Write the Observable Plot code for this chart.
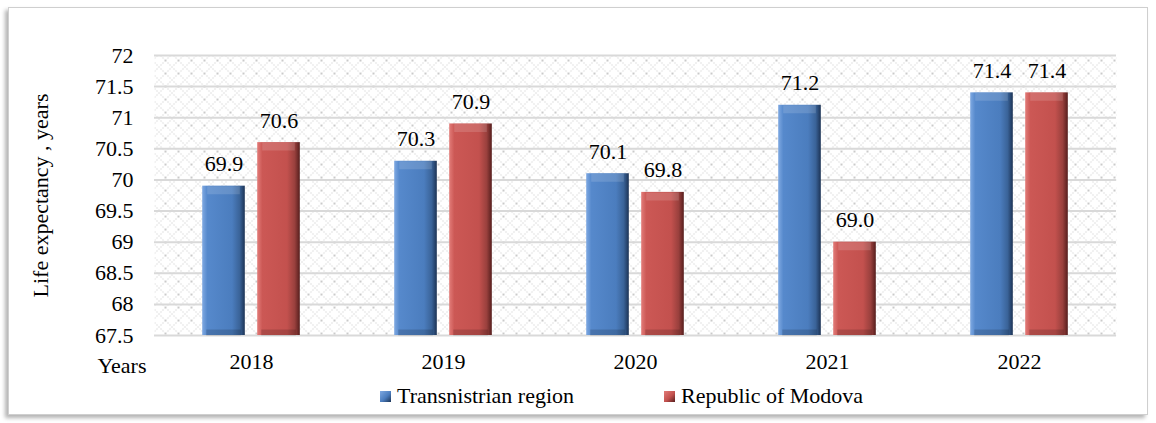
<!DOCTYPE html>
<html>
<head>
<meta charset="utf-8">
<script src="https://cdn.jsdelivr.net/npm/d3@7"></script>
<script src="https://cdn.jsdelivr.net/npm/@observablehq/plot@0.6"></script>
<style>
  html, body { margin: 0; padding: 0; background: #fff; }
  body { width: 1156px; height: 423px; position: relative; overflow: hidden; font-family: "Liberation Serif", "Times New Roman", serif; }
  #box { position: absolute; left: 8px; top: 7px; width: 1138px; height: 406px; border: 1px solid #cfcfcf; background: #fff;
         box-shadow: -3px 3px 4px rgba(0,0,0,0.30); }
  #chart { position: absolute; left: 0; top: 0; }
  #chart svg text { font-family: "Liberation Serif", "Times New Roman", serif; }
  #legend { position: absolute; left: 371px; top: 375px; display: flex; align-items: center; font-size: 22px; color: #000; white-space: nowrap; }
  .item { display: flex; align-items: center; }
  .sw { width: 11px; height: 11px; margin-right: 6px; }
</style>
</head>
<body>
<div id="box">
  <div id="chart"></div>
  <div id="legend"></div>
</div>
<script>
// ---- data ----
const years = ["2018", "2019", "2020", "2021", "2022"];
const seriesNames = ["Transnistrian region", "Republic of Modova"];
const transnistria = [69.9, 70.3, 70.1, 71.2, 71.4];
const moldova = [70.6, 70.9, 69.8, 69.0, 71.4];
const yTicks = [67.5, 68, 68.5, 69, 69.5, 70, 70.5, 71, 71.5, 72];
const yTitle = "Life expectancy , years";
const xTitle = "Years";

const rows = [];
years.forEach((y, i) => {
  rows.push({year: y, series: seriesNames[0], value: transnistria[i]});
  rows.push({year: y, series: seriesNames[1], value: moldova[i]});
});
const blueRows = rows.filter(d => d.series === seriesNames[0]);
const redRows = rows.filter(d => d.series === seriesNames[1]);

// ---- layout ----
const W = 1138, H = 370;
const mL = 145, mR = 31, mT = 47, mB = 43;
const step = (W - mL - mR) / years.length;
const barW = 43, gap = 12;
const outer = (step - (2 * barW + gap)) / 2;
const inner = step - outer - barW;
const off = gap / 2 + barW / 2;
const yMin = yTicks[0];
const font = "'Liberation Serif', 'Times New Roman', serif";
const fs = 22;

const barCommon = {x: "year", y1: yMin, y2: "value"};
const txt = {fontFamily: font, fontSize: fs, fill: "#000"};

const plot = Plot.plot({
  width: W,
  height: H,
  marginLeft: mL,
  marginRight: mR,
  marginTop: mT,
  marginBottom: mB,
  style: {fontFamily: font, fontSize: "22px", color: "#000", background: "transparent", overflow: "visible"},
  x: {domain: years, padding: 0, tickSize: 0, tickPadding: 18, label: null},
  y: {domain: [yTicks[0], yTicks[yTicks.length - 1]], ticks: yTicks, tickSize: 0, tickPadding: 21, label: null, tickFormat: d => String(d)},
  marks: [
    Plot.frame({fill: "url(#hatch)", stroke: "none"}),
    Plot.ruleY(yTicks, {stroke: "#d9d9d9", strokeWidth: 2}),
    Plot.barY(blueRows, {...barCommon, fill: "url(#gBlue)", insetLeft: outer, insetRight: inner}),
    Plot.barY(redRows, {...barCommon, fill: "url(#gRed)", insetLeft: inner, insetRight: outer}),
    // top bevel highlight
    Plot.tickY(blueRows, {x: "year", y: "value", stroke: "#ffffff", strokeOpacity: 0.14, strokeWidth: 8, dy: 4, insetLeft: outer + 5, insetRight: inner + 5}),
    Plot.tickY(redRows, {x: "year", y: "value", stroke: "#ffffff", strokeOpacity: 0.14, strokeWidth: 8, dy: 4, insetLeft: inner + 5, insetRight: outer + 5}),
    // bottom bevel shade
    Plot.tickY(blueRows, {x: "year", y: yMin, stroke: "#000", strokeOpacity: 0.15, strokeWidth: 6, dy: -3, insetLeft: outer + 4, insetRight: inner + 4}),
    Plot.tickY(redRows, {x: "year", y: yMin, stroke: "#000", strokeOpacity: 0.15, strokeWidth: 6, dy: -3, insetLeft: inner + 4, insetRight: outer + 4}),
    Plot.text(blueRows, {...txt, x: "year", y: "value", text: d => d.value.toFixed(1), dx: -off, dy: -22, lineAnchor: "middle"}),
    Plot.text(redRows, {...txt, x: "year", y: "value", text: d => d.value.toFixed(1), dx: off, dy: -22, lineAnchor: "middle"}),
    Plot.text([xTitle], {...txt, text: d => d, frameAnchor: "bottom-left", textAnchor: "end", lineAnchor: "middle", dx: -8, dy: 30}),
    Plot.text([yTitle], {...txt, text: d => d, frameAnchor: "left", rotate: -90, textAnchor: "middle", lineAnchor: "middle", dx: -114})
  ]
});

// gradient + pattern defs
const ns = "http://www.w3.org/2000/svg";
const defs = document.createElementNS(ns, "defs");
defs.innerHTML = `
  <pattern id="hatch" width="13" height="13" patternUnits="userSpaceOnUse">
    <rect width="13" height="13" fill="#ffffff"/>
    <path d="M0,0 L13,13 M13,0 L0,13" stroke="#c6c6c6" stroke-width="1" stroke-dasharray="1.4 1.4"/>
  </pattern>
  <linearGradient id="gBlue" x1="0" x2="1" y1="0" y2="0">
    <stop offset="0" stop-color="#7fa9e2"/>
    <stop offset="0.12" stop-color="#5689cc"/>
    <stop offset="0.7" stop-color="#4b7dbe"/>
    <stop offset="0.88" stop-color="#3a6398"/>
    <stop offset="1" stop-color="#1c3355"/>
  </linearGradient>
  <linearGradient id="gRed" x1="0" x2="1" y1="0" y2="0">
    <stop offset="0" stop-color="#e27c79"/>
    <stop offset="0.12" stop-color="#cc5855"/>
    <stop offset="0.7" stop-color="#c3514e"/>
    <stop offset="0.88" stop-color="#99403d"/>
    <stop offset="1" stop-color="#561e1d"/>
  </linearGradient>`;
plot.insertBefore(defs, plot.firstChild);
document.getElementById("chart").appendChild(plot);

// legend
const legend = document.getElementById("legend");
const grads = ["linear-gradient(135deg,#7fa9e2,#4b7dbe 55%,#1c3355)", "linear-gradient(135deg,#e27c79,#c3514e 55%,#561e1d)"];
seriesNames.forEach((name, i) => {
  const it = document.createElement("div");
  it.className = "item";
  if (i > 0) it.style.marginLeft = "90px";
  const sw = document.createElement("div");
  sw.className = "sw";
  sw.style.background = grads[i];
  const t = document.createElement("span");
  t.textContent = name;
  it.appendChild(sw); it.appendChild(t);
  legend.appendChild(it);
});
</script>
</body>
</html>
